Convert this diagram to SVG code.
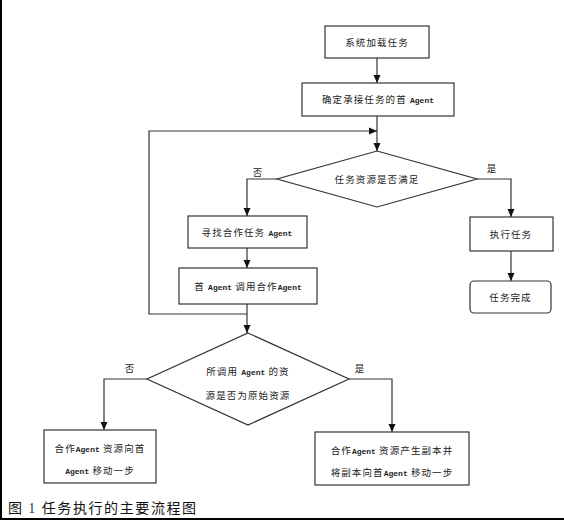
<svg xmlns="http://www.w3.org/2000/svg" width="564" height="520" viewBox="0 0 564 520">
<defs>
<marker id="ah" markerUnits="userSpaceOnUse" markerWidth="8" markerHeight="8" refX="8" refY="4" orient="auto">
<path d="M0,0.5 L8,4 L0,7.5 z" fill="#111"/>
</marker>
<style>
.box{fill:#fff;stroke:#333;stroke-width:1.2}
.ar{fill:none;stroke:#333;stroke-width:1.2;marker-end:url(#ah)}
.t{font-family:"Noto Sans CJK SC","Liberation Sans",sans-serif;font-size:9.5px;letter-spacing:1.1px;fill:#222;text-anchor:middle}
.en{font-family:"Liberation Mono",monospace;font-size:8px;font-weight:bold;letter-spacing:0}
.cap{font-family:"Noto Sans CJK SC","Liberation Sans",sans-serif;font-size:14px;letter-spacing:1.6px;fill:#111}
.num{font-family:"Liberation Serif",serif;fill:#1f3a6b}
</style>
</defs>
<rect width="564" height="520" fill="#fff"/>
<g id="frame"><path d="M1,0 V519 H564" fill="none" stroke="#000" stroke-width="2"/></g>
<g id="connectors">
<path class="ar" d="M377,58 V83"/>
<path class="ar" d="M377,116 V151"/>
<path class="ar" d="M247,314 H149 V131 H377"/>
<path class="ar" d="M277,179 H247 V216"/>
<path class="ar" d="M247,248 V268"/>
<path class="ar" d="M247,304 V333"/>
<path class="ar" d="M477,179 H511 V217"/>
<path class="ar" d="M511,251 V281"/>
<path class="ar" d="M147,379 H104 V430"/>
<path class="ar" d="M349,379 H392 V432"/>
<text class="t" x="258" y="175.5">否</text>
<text class="t" x="492" y="171.5">是</text>
<text class="t" x="130" y="371.5">否</text>
<text class="t" x="360" y="371.5">是</text>
</g>
<g id="n1"><rect class="box" x="325" y="26" width="104" height="32"/><text class="t" x="377" y="45.5">系统加载任务</text></g>
<g id="n2"><rect class="box" x="302" y="83" width="152" height="33"/><text class="t" x="378" y="103">确定承接任务的首 <tspan class="en">Agent</tspan></text></g>
<g id="d1"><polygon class="box" points="377,151 477,179 377,207 277,179"/><text class="t" x="377" y="182.5">任务资源是否满足</text></g>
<g id="n3"><rect class="box" x="188" y="216" width="119" height="32"/><text class="t" x="247" y="235.5">寻找合作任务 <tspan class="en">Agent</tspan></text></g>
<g id="n4"><rect class="box" x="179" y="268" width="138" height="36"/><text class="t" x="248" y="289.5">首 <tspan class="en">Agent</tspan> 调用合作<tspan class="en">Agent</tspan></text></g>
<g id="n5"><rect class="box" x="470" y="217" width="83" height="34"/><text class="t" x="511" y="237.5">执行任务</text></g>
<g id="n6"><rect class="box" x="470" y="281" width="81" height="32" rx="4"/><text class="t" x="510.5" y="300.5">任务完成</text></g>
<g id="d2"><polygon class="box" points="248,333 349,379 248,425 147,379"/><text class="t" x="248" y="375">所调用 <tspan class="en">Agent</tspan> 的资</text><text class="t" x="248" y="399">源是否为原始资源</text></g>
<g id="n7"><rect class="box" x="44" y="430" width="112" height="53"/><text class="t" x="100" y="451.5">合作<tspan class="en">Agent</tspan> 资源向首</text><text class="t" x="100" y="474"><tspan class="en">Agent</tspan> 移动一步</text></g>
<g id="n8"><rect class="box" x="315" y="432" width="154" height="53"/><text class="t" x="392" y="453.5">合作<tspan class="en">Agent</tspan> 资源产生副本并</text><text class="t" x="392" y="476">将副本向首<tspan class="en">Agent</tspan> 移动一步</text></g>
<g id="caption"><text class="cap" x="8" y="513">图 <tspan class="num">1</tspan> 任务执行的主要流程图</text></g>
</svg>
